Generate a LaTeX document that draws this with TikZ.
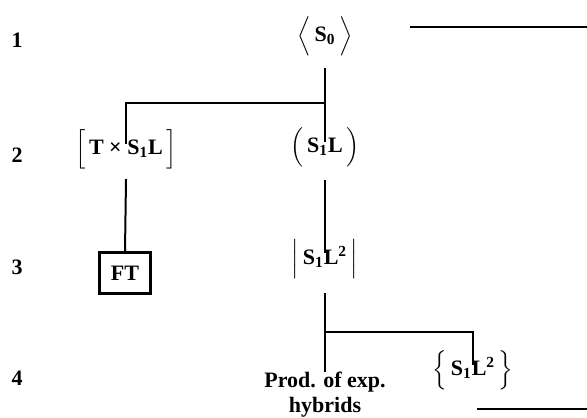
\documentclass[tikz,border=0pt]{standalone}
\usepackage{amsmath}
\usepackage{fontspec}
\setmainfont{Liberation Serif}
\usepackage{tikz}
\usetikzlibrary{positioning}

% tall delimiters round a bold term
\newcommand{\delimterm}[3]{$\left#1\rule[-5.5pt]{0pt}{15.5pt}\,\text{#2}\,\right#3$}

\begin{document}
\begin{tikzpicture}[x=0.5pt, y=-0.5pt,
    every node/.style={font=\fontsize{11}{12.5}\selectfont\bfseries, inner sep=0pt},
    link/.style={line width=1pt},
    rowlbl/.style={anchor=center},
    ftbox/.style={draw, line width=1.2pt, minimum width=25.5pt, minimum height=20.5pt}]
    \useasboundingbox (0,0) rectangle (587,417);

    % Row numbers
    \foreach \n/\y in {1/40, 2/155, 3/267, 4/378}
        \node[rowlbl] (row\n) at (17,\y) {\n};

    % Terms of the tree
    \node (s0) at (325,36) {\delimterm{\langle}{S\textsubscript{0}}{\rangle}};
    \node (txs) at (126,149) {\delimterm{[}{T × S\textsubscript{1}L}{]}};
    \node (s1l) at (325,147) {\delimterm{(}{S\textsubscript{1}L}{)}};
    \node[ftbox] (ft) at (125,273) {FT};
    \node (s1l2) at (325,259) {\delimterm{|}{S\textsubscript{1}L\textsuperscript{2}}{|}};
    \node[align=center, anchor=north] (prod) at (325,372) {Prod. of exp.\\hybrids};
    \node (s1lb) at (473,370) {\delimterm{\{}{S\textsubscript{1}L\textsuperscript{2}}{\}}};

    % Branch points
    \coordinate (j1) at (325,103);
    \coordinate (j2) at (325,332);

    % Connectors
    \draw[link] ([yshift=-6pt]s0.south) -- ([yshift=-7.5pt]s1l.north);
    \draw[link] (j1) -| ([yshift=-7.5pt]txs.north);
    \draw[link] ([yshift=-5pt]txs.south) -- (ft.north);
    \draw[link] ([yshift=-6.5pt]s1l.south) -- ([yshift=-7pt]s1l2.north);
    \draw[link] ([yshift=-7pt]s1l2.south) -- (prod.north);
    \draw[link] (j2) -| ([yshift=-7.5pt]s1lb.north);

    % Free rules at top and bottom right
    \coordinate (top1) at (410,27);
    \coordinate (top2) at (587,27);
    \draw[link] (top1) -- (top2);
    \coordinate (bot1) at (477,409);
    \coordinate (bot2) at (587,409);
    \draw[link] (bot1) -- (bot2);
\end{tikzpicture}
\end{document}
